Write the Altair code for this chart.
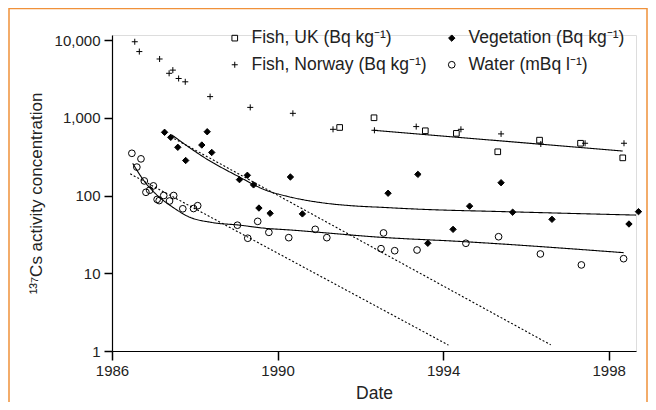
import altair as alt
import pandas as pd

# ---- data ----
LBL_UK = "Fish, UK (Bq kg⁻¹)"
LBL_VEG = "Vegetation (Bq kg⁻¹)"
LBL_NO = "Fish, Norway (Bq kg⁻¹)"
LBL_W = "Water (mBq l⁻¹)"
series_order = [LBL_UK, LBL_NO, LBL_VEG, LBL_W]

uk_years = [1991.50, 1992.33, 1993.57, 1994.32, 1995.32, 1996.33, 1997.32, 1998.34]
uk_vals = [750, 1000, 680, 630, 365, 515, 470, 305]

no_years = [1986.55, 1986.66, 1987.15, 1987.38, 1987.47, 1987.61, 1987.77, 1988.37, 1989.34,
            1990.37, 1991.34, 1992.34, 1993.35, 1994.43, 1995.40, 1996.36, 1997.43, 1998.37]
no_vals = [9500, 7100, 5700, 3730, 4100, 3200, 2900, 1870, 1360,
           1140, 710, 690, 770, 710, 620, 460, 470, 470]

veg_years = [1987.27, 1987.42, 1987.59, 1987.78, 1988.17, 1988.30, 1988.41, 1989.08, 1989.27,
             1989.42, 1989.55, 1989.82, 1990.31, 1990.60, 1992.67, 1993.39, 1993.63, 1994.24,
             1994.64, 1995.40, 1995.68, 1996.63, 1998.49, 1998.72]
veg_vals = [650, 560, 417, 282, 446, 661, 358, 160, 182,
            137, 69, 59, 173, 58, 107, 187, 24.3, 36.7,
            73, 146, 61, 49.4, 43, 62]

w_years = [1986.48, 1986.60, 1986.70, 1986.78, 1986.82, 1986.91, 1987.00, 1987.09, 1987.14,
           1987.25, 1987.39, 1987.49, 1987.71, 1987.97, 1988.07, 1989.03, 1989.28, 1989.52,
           1989.79, 1990.27, 1990.91, 1991.19, 1992.50, 1992.56, 1992.83, 1993.37, 1994.55,
           1995.34, 1996.35, 1997.34, 1998.36]
w_vals = [349, 232, 296, 154, 110, 117, 133, 89, 86,
          100, 85, 100, 67.5, 68, 74, 41.5, 28.2, 46.5,
          33.6, 28.7, 36.7, 28.7, 20.7, 33, 19.5, 19.9, 24.3,
          29.5, 17.7, 12.8, 15.4]

# fitted curves
veg_fit_x = [1987.45, 1988.26, 1989.06, 1989.70, 1990.27, 1991.07, 1991.88, 1992.48, 1993.33, 1995.68, 1998.66]
veg_fit_y = [600, 301, 175, 118, 96.6, 80.7, 73.3, 70.6, 67, 61.6, 56]
w_fit_x = [1986.50, 1986.76, 1987.13, 1987.45, 1987.85, 1988.41, 1989.06, 1989.70, 1990.31, 1992.50, 1994.50, 1998.36]
w_fit_y = [259, 158, 96.6, 71.8, 53.4, 45, 41.7, 37.9, 36, 29, 25.5, 18.4]
fish_fit_x = [1992.32, 1998.34]
fish_fit_y = [690, 373]
veg_dot_x = [1987.42, 1996.60]
veg_dot_y = [570, 1.2]
w_dot_x = [1986.44, 1994.13]
w_dot_y = [190, 1.19]

# ---- tables ----
def pts(years, vals, name):
    return pd.DataFrame({"year": years, "value": vals, "series": name})

points = pd.concat([pts(uk_years, uk_vals, LBL_UK), pts(no_years, no_vals, LBL_NO),
                    pts(veg_years, veg_vals, LBL_VEG), pts(w_years, w_vals, LBL_W)],
                   ignore_index=True)

def crv(xs, ys, cid, kind):
    return pd.DataFrame({"year": xs, "value": ys, "curve": cid, "kind": kind})

curves = pd.concat([crv(veg_fit_x, veg_fit_y, "vegfit", "fit"), crv(w_fit_x, w_fit_y, "wfit", "fit"),
                    crv(fish_fit_x, fish_fit_y, "fishfit", "fit"), crv(veg_dot_x, veg_dot_y, "vegdot", "dot"),
                    crv(w_dot_x, w_dot_y, "wdot", "dot")], ignore_index=True)

FONT = "Liberation Sans"
TXT = "#222222"

xscale = alt.Scale(domain=[1986, 1998.66], nice=False, zero=False)
yscale = alt.Scale(type="log", domain=[1, 11600], nice=False)

xaxis = alt.Axis(values=[1986, 1990, 1994, 1998], format="d", title="Date", grid=False,
                 labelFontSize=15, titleFontSize=17.5, titleFontWeight="normal",
                 tickSize=9, tickWidth=1.5, domainWidth=1.2, labelPadding=3, titlePadding=6,
                 labelFlush=False, domainColor="black", tickColor="black",
                 labelColor=TXT, titleColor=TXT, labelFont=FONT, titleFont=FONT)
yaxis = alt.Axis(values=[1, 10, 100, 1000, 10000], format=",", title="¹³⁷Cs activity concentration",
                 grid=False, labelFontSize=15, titleFontSize=17, titleFontWeight="normal",
                 tickSize=8, tickWidth=1.5, domainWidth=1.2, labelPadding=4, titlePadding=9,
                 titleY=158, domainColor="black", tickColor="black",
                 labelColor=TXT, titleColor=TXT, labelFont=FONT, titleFont=FONT)

plus_path = "M-1,0L1,0M0,-1L0,1"

leg = alt.Legend(title=None, orient="none", legendX=114, legendY=-6, columns=2,
                 columnPadding=16, rowPadding=8, labelFontSize=17.5, labelFont=FONT,
                 labelColor=TXT, labelOffset=8, labelLimit=400, symbolStrokeWidth=1)

dots = alt.Chart(points).mark_point(opacity=1, strokeWidth=1).encode(
    x=alt.X("year:Q", scale=xscale, axis=xaxis),
    y=alt.Y("value:Q", scale=yscale, axis=yaxis),
    shape=alt.Shape("series:N", scale=alt.Scale(domain=series_order,
                    range=["square", plus_path, "diamond", "circle"]), legend=leg),
    fill=alt.Fill("series:N", scale=alt.Scale(domain=series_order,
                  range=["transparent", "transparent", "black", "transparent"]), legend=leg),
    stroke=alt.Stroke("series:N", scale=alt.Scale(domain=series_order,
                      range=["black", "black", "black", "black"]), legend=leg),
    size=alt.Size("series:N", scale=alt.Scale(domain=series_order, range=[32, 45, 45, 25]),
                  legend=leg),
)

lines = alt.Chart(curves).mark_line(color="black", strokeWidth=1.1, interpolate="monotone").encode(
    x=alt.X("year:Q", scale=xscale),
    y=alt.Y("value:Q", scale=yscale),
    detail="curve:N",
    strokeDash=alt.StrokeDash("kind:N", scale=alt.Scale(domain=["fit", "dot"], range=[[1, 0], [2, 2]]),
                              legend=None),
)

frame = alt.Chart(pd.DataFrame({"a": [0]})).mark_rect(fill="transparent", stroke="#F0913A",
                                                      strokeWidth=1.5).encode(
    x=alt.value(-103), x2=alt.value(535), y=alt.value(-26.5), y2=alt.value(385))

chart = alt.layer(lines, dots, frame).properties(
    width=524, height=316,
    padding={"left": 104, "top": 27, "right": 12, "bottom": 51},
    autosize=alt.AutoSizeParams(type="none"),
).configure_view(stroke=None).configure(font=FONT)

chart.save("out.html", embed_options={"renderer": "svg", "actions": False})
